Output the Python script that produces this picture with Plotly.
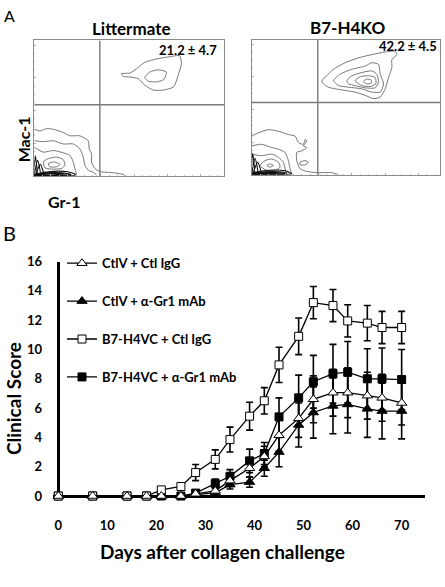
import plotly.graph_objects as go

# ---------------- Panel B data ----------------
days = [0, 7, 14, 18, 21, 25, 28, 32, 35, 39, 42, 45, 49, 52, 56, 59, 63, 66, 70]
ctlv_igg = [0, 0, 0, 0, 0, 0, 0.15, 0.35, 1.05, 1.9, 2.7, 4.15, 5.3, 6.6, 7.05, 7.05, 6.85, 6.7, 6.35]
ctlv_igg_err = [0, 0, 0, 0, 0, 0, 0.1, 0.2, 0.4, 0.6, 0.7, 1.1, 1.3, 1.6, 1.6, 1.7, 1.6, 1.6, 1.5]
ctlv_gr1 = [0, 0, 0, 0, 0, 0, 0.1, 0.22, 0.78, 0.95, 1.9, 3.0, 4.85, 5.7, 6.15, 6.25, 5.95, 5.8, 5.8]
ctlv_gr1_err = [0, 0, 0, 0, 0, 0, 0.1, 0.15, 0.3, 0.35, 0.55, 1.0, 1.5, 1.75, 1.9, 1.95, 1.95, 1.9, 1.9]
vc_igg = [0, 0, 0, 0, 0.42, 0.65, 1.6, 2.5, 3.85, 5.45, 6.5, 8.95, 10.9, 13.2, 13.0, 11.95, 11.8, 11.5, 11.5]
vc_igg_err = [0, 0, 0, 0, 0.05, 0.1, 0.55, 0.65, 0.85, 0.95, 0.9, 1.2, 1.25, 1.1, 1.1, 1.1, 1.2, 1.1, 1.1]
vc_gr1 = [0, 0, 0, 0, 0, 0, 0.2, 0.85, 1.35, 2.4, 2.9, 5.4, 6.7, 7.8, 8.35, 8.45, 8.0, 8.0, 7.95]
vc_gr1_err = [0, 0, 0, 0, 0, 0, 0.1, 0.3, 0.45, 0.8, 0.75, 1.3, 1.55, 1.8, 2.0, 2.1, 2.05, 2.1, 2.05]
series_names = ["CtlV + Ctl IgG", "CtlV + α-Gr1 mAb", "B7-H4VC + Ctl IgG", "B7-H4VC + α-Gr1 mAb"]
y_ticks = [0, 2, 4, 6, 8, 10, 12, 14, 16]
x_ticks = [0, 10, 20, 30, 40, 50, 60, 70]

# ---------------- Panel A data (contour lines, arbitrary fluorescence units) ----------------
panel_titles = ["Littermate", "B7-H4KO"]
gate_pct = ["21.2 ± 4.7", "42.2 ± 4.5"]
gate_x = [197, 198]
gate_y = [218, 221]

lm_ur_1 = [(262, 313), (287, 315), (307, 328), (332, 348), (367, 358), (407, 365), (437, 368), (442, 343),
           (432, 308), (419, 273), (387, 263), (357, 263), (332, 278), (312, 298), (287, 303), (267, 305)]
lm_ur_2 = [(332, 301), (347, 318), (372, 325), (397, 318), (389, 295), (367, 288), (342, 290)]
lm_ll_1 = [(0, 143), (17, 138), (37, 145), (57, 143), (87, 133), (107, 123), (137, 123), (162, 108), (165, 83),
           (172, 68), (172, 43), (182, 23), (197, 13), (227, 11), (267, 5), (275, 0)]
lm_ll_2 = [(0, 108), (27, 105), (57, 108), (87, 98), (117, 98), (137, 83), (147, 58), (152, 33), (162, 18),
           (177, 11), (187, 3)]
lm_ll_3 = [(0, 88), (27, 73), (57, 78), (87, 71), (107, 63), (117, 43), (122, 23), (127, 5)]
lm_ll_4 = [(27, 43), (42, 53), (67, 58), (87, 50), (92, 33), (82, 23), (57, 21), (32, 25)]
lm_ll_5 = [(42, 38), (62, 43), (77, 35), (67, 28), (47, 28)]
lm_dense = [
    [(0, 3), (30, 11), (70, 15), (100, 13), (120, 7), (125, 2), (60, 1), (0, 1)],
    [(0, 4), (40, 10), (80, 10), (110, 5), (80, 2), (30, 2)],
    [(5, 5), (50, 8), (90, 7), (50, 3)],
    [(0, 2), (3, 62), (8, 2)],
    [(2, 2), (10, 48), (18, 2)],
    [(5, 2), (18, 36), (28, 3)],
]
ko_ur_1 = [(210, 288), (225, 303), (245, 323), (280, 343), (320, 358), (360, 368), (400, 376), (430, 378),
           (435, 368), (420, 353), (420, 328), (410, 298), (400, 263), (385, 238), (365, 233), (340, 243),
           (310, 253), (280, 258), (250, 263), (230, 268), (215, 278)]
ko_ur_2 = [(245, 288), (265, 308), (300, 323), (340, 333), (360, 343), (380, 338), (385, 308), (395, 278),
           (385, 253), (360, 253), (330, 263), (290, 268), (260, 273)]
ko_ur_3 = [(285, 288), (300, 303), (330, 313), (360, 318), (375, 308), (380, 283), (370, 266), (340, 266),
           (310, 273), (290, 278)]
ko_ur_4 = [(310, 288), (325, 300), (350, 303), (370, 298), (372, 278), (355, 270), (330, 273)]
ko_ur_5 = [(335, 286), (345, 293), (358, 290), (358, 280), (345, 278)]
ko_ll_1 = [(0, 118), (20, 128), (50, 138), (80, 133), (110, 123), (130, 118), (140, 98), (155, 93), (160, 108),
           (165, 103), (155, 88), (165, 83), (150, 73), (135, 68), (135, 43), (145, 18), (165, 10), (195, 6),
           (240, 6), (260, 0)]
ko_ll_2 = [(145, 38), (160, 43), (170, 38), (160, 30), (145, 30)]
ko_ll_3 = [(0, 88), (30, 93), (60, 83), (80, 78), (100, 68), (110, 43), (115, 18), (120, 3)]
ko_ll_4 = [(0, 63), (30, 58), (60, 63), (80, 53), (95, 38), (100, 18), (105, 3)]
ko_ll_5 = [(25, 28), (40, 43), (60, 48), (80, 38), (85, 23), (70, 13), (45, 13)]
ko_ll_6 = [(45, 28), (55, 33), (65, 28), (55, 23)]
ko_dense = [
    [(0, 3), (30, 11), (70, 14), (100, 12), (115, 6), (120, 2), (60, 1), (0, 1)],
    [(0, 4), (40, 9), (80, 9), (105, 5), (80, 2), (30, 2)],
    [(5, 5), (50, 7), (90, 6), (50, 3)],
    [(0, 2), (3, 65), (8, 2)],
    [(2, 2), (10, 50), (18, 2)],
    [(5, 2), (18, 38), (28, 3)],
]

lm_closed = [lm_ur_1, lm_ur_2, lm_ll_4, lm_ll_5]
lm_open = [lm_ll_1, lm_ll_2, lm_ll_3]
ko_closed = [ko_ur_1, ko_ur_2, ko_ur_3, ko_ur_4, ko_ur_5, ko_ll_2, ko_ll_5, ko_ll_6]
ko_open = [ko_ll_1, ko_ll_3, ko_ll_4]

FONT = "Lato"
W, H = 445, 587

fig = go.Figure()


def add_line(pts, closed, xa, ya, color="#555", width=0.8):
    xs = [p[0] for p in pts]
    ys = [p[1] for p in pts]
    if closed:
        xs.append(xs[0])
        ys.append(ys[0])
    fig.add_trace(go.Scatter(x=xs, y=ys, mode="lines", line=dict(color=color, width=width, shape="spline",
                                                                  smoothing=0.6),
                             xaxis=xa, yaxis=ya, showlegend=False, hoverinfo="skip"))


for pts in lm_closed:
    add_line(pts, True, "x", "y")
for pts in lm_open:
    add_line(pts, False, "x", "y")
for pts in lm_dense:
    add_line(pts, True, "x", "y", "#111", 1.1)
for pts in ko_closed:
    add_line(pts, True, "x2", "y2")
for pts in ko_open:
    add_line(pts, False, "x2", "y2")
for pts in ko_dense:
    add_line(pts, True, "x2", "y2", "#111", 1.1)

# ---------------- Panel B traces ----------------
specs = [
    (vc_gr1, vc_gr1_err, "square", "black", 4, series_names[3]),
    (ctlv_gr1, ctlv_gr1_err, "triangle-up", "black", 2, series_names[1]),
    (vc_igg, vc_igg_err, "square", "white", 3, series_names[2]),
    (ctlv_igg, ctlv_igg_err, "triangle-up", "white", 1, series_names[0]),
]
for vals, err, sym, fill, rank, name in specs:
    fig.add_trace(go.Scatter(
        x=days, y=vals, name=name, mode="lines+markers", legendrank=rank, legendgroup=name,
        line=dict(color="black", width=1.3),
        marker=dict(symbol=sym, size=8 if sym == "square" else 9, color=fill, line=dict(color="black", width=1)),
        error_y=dict(type="data", array=err, visible=True, color="black", thickness=1.6, width=3.5),
        xaxis="x3", yaxis="y3", cliponaxis=False))

box_axis = dict(showline=True, mirror=True, linecolor="#8a8a8a", linewidth=1, showgrid=False, zeroline=False,
                showticklabels=False, ticks="inside", ticklen=2, tickcolor="#aaa", dtick=100,
                minor=dict(ticks="inside", ticklen=1, tickcolor="#bbb", dtick=25))

fig.update_layout(
    width=W, height=H, margin=dict(l=0, r=0, t=0, b=0),
    paper_bgcolor="white", plot_bgcolor="white",
    font=dict(family=FONT, color="black"),
    xaxis=dict(domain=[34.3 / W, 224 / W], range=[0, 570], anchor="y", **box_axis),
    yaxis=dict(domain=[1 - 172.7 / H, 1 - 33.3 / H], range=[0, 415], anchor="x", **box_axis),
    xaxis2=dict(domain=[251.7 / W, 440.3 / W], range=[0, 565], anchor="y2", **box_axis),
    yaxis2=dict(domain=[1 - 171.3 / H, 1 - 32.8 / H], range=[0, 413], anchor="x2", **box_axis),
    xaxis3=dict(domain=[53 / W, 425 / W], range=[-1.08, 74.76], anchor="y3", showline=False, showgrid=False,
                zeroline=True, zerolinecolor="black", zerolinewidth=3, tickvals=x_ticks, ticks="",
                ticklabelstandoff=20, tickfont=dict(size=13, family=FONT, weight="bold")),
    yaxis3=dict(domain=[1 - 501.7 / H, 1 - 260.7 / H], range=[0, 16], anchor="x3", showline=False,
                showgrid=False, zeroline=True, zerolinecolor="black", zerolinewidth=3, tickvals=y_ticks,
                ticks="", ticklabelstandoff=10, tickfont=dict(size=13, family=FONT, weight="bold")),
    legend=dict(x=62 / W, y=1 - 247 / H, xanchor="left", yanchor="top", traceorder="grouped",
                tracegroupgap=18, bgcolor="rgba(0,0,0,0)",
                font=dict(size=13, family=FONT, weight="bold")),
    showlegend=True,
)

# gate lines
for i, (xa, ya, xmax, ymax) in enumerate([("x", "y", 570, 415), ("x2", "y2", 565, 413)]):
    fig.add_shape(type="line", xref=xa, yref=ya, x0=gate_x[i], x1=gate_x[i], y0=0, y1=ymax,
                  line=dict(color="#7a7a7a", width=1.4))
    fig.add_shape(type="line", xref=xa, yref=ya, x0=0, x1=xmax, y0=gate_y[i], y1=gate_y[i],
                  line=dict(color="#7a7a7a", width=1.4))


def ann(text, x, y, size, bold=True, angle=0):
    fig.add_annotation(text=text, x=x / W, y=1 - y / H, xref="paper", yref="paper", showarrow=False,
                       xanchor="center", yanchor="middle", textangle=angle,
                       font=dict(size=size, family=FONT, weight="bold" if bold else "normal", color="black"))


ann("A", 9, 8, 16, bold=False)
ann("B", 9, 231, 20, bold=False)
ann(panel_titles[0], 131, 21, 17)
ann(panel_titles[1], 347.5, 20, 17)
ann(gate_pct[0], 187.5, 42.7, 13)
ann(gate_pct[1], 408, 39.5, 13)
ann("Mac-1", 23, 135, 16, angle=-90)
ann("Gr-1", 64, 199, 16)
ann("Clinical Score", 13, 402, 19, angle=-90)
ann("Days after collagen challenge", 222, 559, 19)

fig.write_html("out.html")
